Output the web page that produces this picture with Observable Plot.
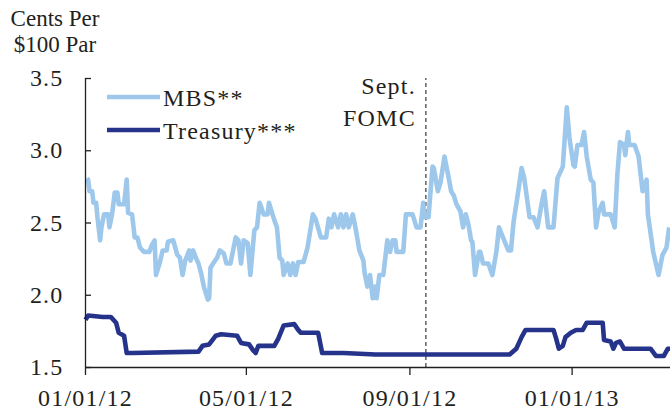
<!DOCTYPE html>
<html><head><meta charset="utf-8">
<script src="https://cdn.jsdelivr.net/npm/d3@7"></script>
<script src="https://cdn.jsdelivr.net/npm/@observablehq/plot@0.6"></script>
<style>
body{margin:0;background:#fff;}
#wrap{position:relative;width:670px;height:413px;font-family:"Liberation Serif","Times New Roman",serif;color:#231f20;overflow:hidden;}
#title{position:absolute;left:0;top:6px;width:110px;text-align:center;font-size:23px;line-height:26px;}
#legend{position:absolute;left:0;top:0;}
#chart svg text{letter-spacing:1.2px;}
</style></head><body>
<div id="wrap"><div id="chart"></div><div id="title">Cents Per<br>$100 Par</div><svg id="legend" width="670" height="160"></svg></div>
<script>
const seriesNames = ["MBS**", "Treasury***"];
const seriesColors = ["#9dc8ec", "#26338a"];

const mbsDates = ["2012-01-02","2012-01-03","2012-01-04","2012-01-06","2012-01-07","2012-01-09","2012-01-10","2012-01-12","2012-01-13","2012-01-15","2012-01-18","2012-01-19","2012-01-21","2012-01-23","2012-01-25","2012-01-26","2012-01-30","2012-02-01","2012-02-02","2012-02-05","2012-02-07","2012-02-09","2012-02-11","2012-02-14","2012-02-18","2012-02-20","2012-02-22","2012-02-23","2012-02-26","2012-02-28","2012-03-02","2012-03-03","2012-03-07","2012-03-10","2012-03-12","2012-03-14","2012-03-16","2012-03-19","2012-03-20","2012-03-22","2012-03-24","2012-03-26","2012-03-28","2012-03-30","2012-04-02","2012-04-03","2012-04-04","2012-04-06","2012-04-09","2012-04-11","2012-04-14","2012-04-16","2012-04-19","2012-04-21","2012-04-23","2012-04-25","2012-04-27","2012-04-29","2012-05-02","2012-05-04","2012-05-07","2012-05-09","2012-05-11","2012-05-14","2012-05-17","2012-05-18","2012-05-22","2012-05-24","2012-05-26","2012-05-28","2012-05-29","2012-06-01","2012-06-03","2012-06-05","2012-06-07","2012-06-09","2012-06-13","2012-06-16","2012-06-20","2012-06-22","2012-06-26","2012-06-30","2012-07-02","2012-07-04","2012-07-06","2012-07-09","2012-07-11","2012-07-13","2012-07-15","2012-07-17","2012-07-20","2012-07-22","2012-07-25","2012-07-28","2012-07-29","2012-07-31","2012-08-02","2012-08-04","2012-08-06","2012-08-07","2012-08-09","2012-08-12","2012-08-15","2012-08-17","2012-08-19","2012-08-21","2012-08-22","2012-08-27","2012-08-29","2012-09-03","2012-09-06","2012-09-09","2012-09-11","2012-09-12","2012-09-15","2012-09-18","2012-09-19","2012-09-22","2012-09-24","2012-09-27","2012-09-30","2012-10-02","2012-10-04","2012-10-06","2012-10-09","2012-10-11","2012-10-13","2012-10-15","2012-10-17","2012-10-18","2012-10-20","2012-10-23","2012-10-24","2012-10-26","2012-10-30","2012-11-02","2012-11-05","2012-11-07","2012-11-10","2012-11-14","2012-11-16","2012-11-18","2012-11-21","2012-11-24","2012-11-26","2012-11-30","2012-12-03","2012-12-06","2012-12-09","2012-12-11","2012-12-14","2012-12-18","2012-12-21","2012-12-25","2012-12-28","2012-12-30","2013-01-02","2013-01-03","2013-01-05","2013-01-08","2013-01-10","2013-01-12","2013-01-15","2013-01-17","2013-01-19","2013-01-21","2013-01-24","2013-01-25","2013-01-30","2013-02-02","2013-02-04","2013-02-06","2013-02-09","2013-02-10","2013-02-12","2013-02-13","2013-02-17","2013-02-20","2013-02-23","2013-02-26","2013-02-27","2013-03-03","2013-03-07","2013-03-10","2013-03-13","2013-03-15"];
const mbsValues = [2.81,2.80,2.72,2.72,2.64,2.64,2.54,2.38,2.47,2.56,2.56,2.47,2.56,2.71,2.71,2.63,2.63,2.80,2.57,2.56,2.40,2.40,2.33,2.30,2.30,2.35,2.38,2.14,2.23,2.31,2.31,2.37,2.38,2.28,2.26,2.14,2.24,2.31,2.24,2.31,2.26,2.22,2.15,2.06,1.97,1.98,2.19,2.22,2.26,2.31,2.29,2.22,2.22,2.31,2.40,2.38,2.22,2.38,2.36,2.14,2.45,2.47,2.64,2.56,2.56,2.64,2.52,2.47,2.26,2.24,2.14,2.22,2.14,2.22,2.14,2.23,2.23,2.33,2.56,2.53,2.40,2.40,2.53,2.47,2.56,2.47,2.56,2.47,2.56,2.47,2.56,2.47,2.31,2.24,2.15,2.06,2.14,1.98,2.06,1.98,2.14,2.14,2.38,2.30,2.38,2.38,2.30,2.30,2.56,2.56,2.47,2.47,2.64,2.54,2.54,2.89,2.88,2.72,2.78,2.96,2.82,2.72,2.69,2.63,2.58,2.47,2.56,2.49,2.38,2.37,2.14,2.30,2.30,2.22,2.22,2.14,2.30,2.47,2.40,2.31,2.31,2.51,2.69,2.88,2.81,2.54,2.54,2.47,2.63,2.72,2.47,2.47,2.81,2.89,3.30,3.09,2.90,2.89,3.04,3.04,3.13,2.96,2.80,2.78,2.47,2.58,2.64,2.56,2.56,2.47,2.83,3.06,3.04,2.97,3.13,3.04,3.04,2.96,2.72,2.80,2.56,2.30,2.14,2.28,2.33,2.47];

const tsyDates = ["2012-01-01","2012-01-03","2012-01-14","2012-01-20","2012-01-24","2012-01-26","2012-01-30","2012-02-01","2012-02-05","2012-03-26","2012-03-29","2012-04-03","2012-04-08","2012-04-12","2012-04-24","2012-04-27","2012-05-03","2012-05-06","2012-05-08","2012-05-10","2012-05-22","2012-05-25","2012-05-29","2012-06-06","2012-06-09","2012-06-11","2012-06-24","2012-06-27","2012-07-13","2012-08-06","2012-11-15","2012-11-20","2012-11-24","2012-11-27","2012-12-18","2012-12-20","2012-12-22","2012-12-25","2012-12-27","2012-12-31","2013-01-04","2013-01-09","2013-01-12","2013-01-24","2013-01-25","2013-01-30","2013-02-01","2013-02-03","2013-02-06","2013-02-09","2013-03-01","2013-03-05","2013-03-11","2013-03-14","2013-03-16"];
const tsyValues = [1.83,1.86,1.85,1.85,1.81,1.74,1.72,1.60,1.60,1.61,1.65,1.66,1.72,1.73,1.72,1.67,1.66,1.62,1.60,1.65,1.65,1.70,1.79,1.80,1.76,1.74,1.74,1.60,1.60,1.59,1.59,1.63,1.71,1.76,1.76,1.70,1.63,1.65,1.71,1.74,1.76,1.76,1.81,1.81,1.69,1.68,1.63,1.67,1.68,1.63,1.63,1.58,1.58,1.63,1.63];

const yTicks = [1.5, 2.0, 2.5, 3.0, 3.5];
const xTicks = ["2012-01-01", "2012-05-01", "2012-09-01", "2013-01-01"];
const xDomain = ["2012-01-01", "2013-03-16"];
const fomcDate = "2012-09-13";
const fomcLabel = "Sept.\nFOMC";

const parse = d3.utcParse("%Y-%m-%d");
const rows = [
  ...mbsDates.map((d, i) => ({date: parse(d), value: mbsValues[i], series: seriesNames[0]})),
  ...tsyDates.map((d, i) => ({date: parse(d), value: tsyValues[i], series: seriesNames[1]}))
];
const ink = "#231f20";
const fontFam = "'Liberation Serif', 'Times New Roman', serif";

const chart = Plot.plot({
  width: 670, height: 413,
  marginLeft: 85, marginRight: 0, marginTop: 78, marginBottom: 46,
  style: {fontFamily: fontFam, fontSize: "24px", color: ink, background: "white", overflow: "visible"},
  x: {type: "utc", domain: xDomain.map(parse)},
  y: {domain: [yTicks[0], yTicks[yTicks.length - 1]]},
  color: {domain: seriesNames, range: seriesColors},
  marks: [
    Plot.ruleX([parse(fomcDate)], {y1: yTicks[0], y2: yTicks[yTicks.length - 1], stroke: "#555", strokeWidth: 1.4, strokeDasharray: "4,3"}),
    Plot.line(rows, {x: "date", y: "value", z: "series", stroke: "series", strokeWidth: 4.6, strokeLinejoin: "round", strokeLinecap: "butt"}),
    Plot.text([fomcLabel], {x: parse(fomcDate), y: yTicks[yTicks.length - 1], text: d => d, textAnchor: "end", lineAnchor: "top", dx: -10, dy: -7, lineHeight: 1.33, fontSize: 24, fill: ink}),
    Plot.axisX({ticks: xTicks.map(parse), tickFormat: d3.utcFormat("%m/%d/%y"), tickSize: 8, tickPadding: 13, label: null, fontSize: 24, strokeWidth: 1.3}),
    Plot.axisY({ticks: yTicks, tickFormat: d3.format(".1f"), tickSize: 6, dx: 6, tickPadding: 22, label: null, fontSize: 24, strokeWidth: 1.3}),
    Plot.ruleY([yTicks[0]], {stroke: ink, strokeWidth: 1.3}),
    Plot.ruleX([parse(xDomain[0])], {y1: yTicks[0], y2: yTicks[yTicks.length - 1], stroke: ink, strokeWidth: 1.3})
  ]
});
document.getElementById("chart").appendChild(chart);

// legend
const leg = d3.select("#legend");
const legY = [97, 130];
seriesNames.forEach((name, i) => {
  leg.append("line").attr("x1", 107).attr("x2", 160).attr("y1", legY[i]).attr("y2", legY[i])
    .attr("stroke", seriesColors[i]).attr("stroke-width", 4.6);
  leg.append("text").attr("x", 163).attr("y", legY[i] + 8.5).text(name)
    .attr("font-family", fontFam).attr("font-size", 24).attr("letter-spacing", "1.2px").attr("fill", ink);
});
</script>
</body></html>
